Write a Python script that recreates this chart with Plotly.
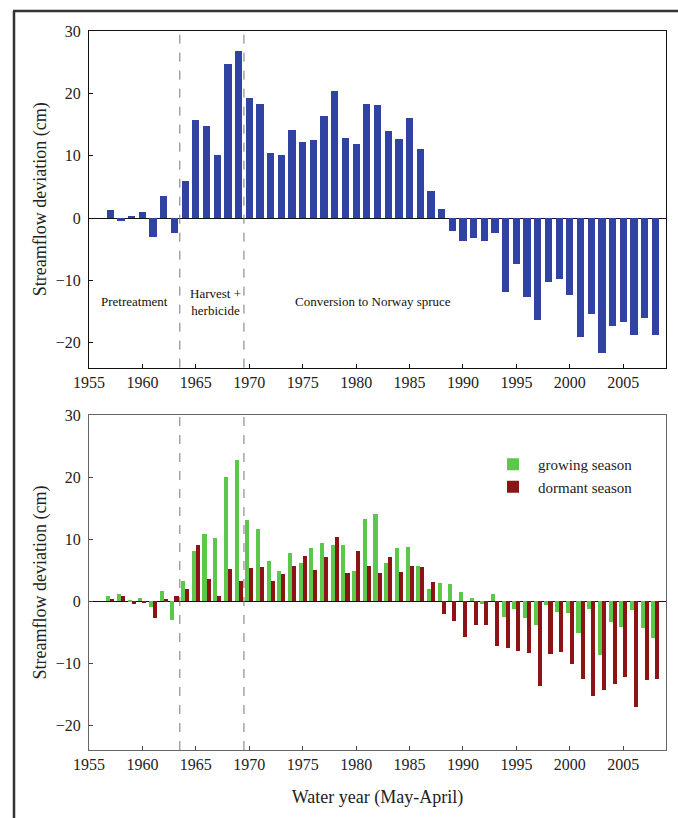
import plotly.graph_objects as go
from plotly.subplots import make_subplots

years = list(range(1957, 2009))

total_dev = [1.3, -0.5, 0.4, 0.9, -3.0, 3.5, -2.4, 5.9, 15.8, 14.8,
             10.1, 24.7, 26.8, 19.2, 18.3, 10.4, 10.1, 14.2, 12.2, 12.5,
             16.4, 20.4, 12.9, 11.8, 18.3, 18.2, 14.0, 12.6, 16.1, 11.0,
             4.4, 1.4, -2.1, -3.6, -3.2, -3.6, -2.4, -11.9, -7.4, -12.6,
             -16.4, -10.2, -9.8, -12.4, -19.0, -15.4, -21.6, -17.3, -16.6, -18.7,
             -16.0, -18.8]

growing_dev = [0.75, 1.1, 0.1, 0.5, -0.9, 1.6, -3.1, 3.2, 8.0, 10.8,
               10.2, 20.0, 22.8, 13.0, 11.6, 6.4, 4.9, 7.8, 6.1, 8.5,
               9.4, 9.1, 9.1, 4.9, 13.3, 14.1, 6.1, 8.5, 8.7, 5.7,
               2.0, 2.9, 2.7, 1.5, 0.5, -0.4, 1.1, -2.5, -1.2, -2.7,
               -3.9, -0.7, -1.8, -1.9, -5.1, -1.2, -8.7, -3.4, -4.2, -1.4,
               -4.3, -6.0]

dormant_dev = [0.4, 0.75, -0.5, -0.2, -2.7, 0.3, 0.75, 1.9, 9.0, 3.6,
               0.9, 5.2, 3.2, 5.4, 5.5, 3.2, 4.4, 5.7, 7.3, 5.0,
               7.1, 10.4, 4.5, 8.1, 5.7, 4.5, 7.1, 4.7, 5.7, 5.5,
               3.1, -2.0, -3.2, -5.8, -3.9, -3.9, -7.2, -7.6, -8.0, -8.4,
               -13.7, -8.6, -8.2, -10.1, -12.5, -15.3, -14.4, -13.4, -12.2, -17.0,
               -12.7, -12.5]

period_breaks = [1963.5, 1969.5]
period_labels = ["Pretreatment", "Harvest +<br>herbicide", "Conversion to Norway spruce"]
period_label_x = [1959.3, 1966.8, 1981.6]
period_label_y = -13.4

x_ticks = list(range(1955, 2010, 5))
y_ticks = [-20, -10, 0, 10, 20, 30]

FONT = "Liberation Serif"
BLUE = "#3043a3"
GREEN = "#5cc84a"
DRED = "#8c1414"

W, H = 678, 818
ml, mr, mt, mb = 89, 12, 31, 68
pw = W - ml - mr
ph = H - mt - mb

def px_x(p):
    return (p - ml) / pw

def px_y(p):
    return (H - mb - p) / ph

top_lo = px_y(367.7)
bot_hi = px_y(415)

fig = make_subplots(rows=2, cols=1, vertical_spacing=0.0)
fig.update_layout(
    yaxis=dict(domain=[top_lo, 1.0]),
    yaxis2=dict(domain=[0.0, bot_hi]),
)

fig.add_trace(go.Bar(x=years, y=total_dev, width=0.68, marker=dict(color=BLUE, line=dict(width=0)),
                     showlegend=False, name="total"), row=1, col=1)
fig.add_trace(go.Bar(x=years, y=growing_dev, width=0.38, offset=-0.38,
                     marker=dict(color=GREEN, line=dict(width=0)), name="growing season"), row=2, col=1)
fig.add_trace(go.Bar(x=years, y=dormant_dev, width=0.38, offset=0.0,
                     marker=dict(color=DRED, line=dict(width=0)), name="dormant season"), row=2, col=1)

axis_common = dict(
    range=[1955, 2009], tickvals=x_ticks, ticks="inside", ticklen=4, tickwidth=1,
    showgrid=False, showline=True, mirror=True, linewidth=1, zeroline=False,
    tickfont=dict(family=FONT, size=16, color="#222"),
)
fig.update_xaxes(**axis_common, linecolor="#111", tickcolor="#111", row=1, col=1)
fig.update_xaxes(**axis_common, linecolor="#666", tickcolor="#444", row=2, col=1,
                 title=dict(text="Water year (May-April)", font=dict(family=FONT, size=18, color="#222"),
                            standoff=18))

yaxis_common = dict(
    range=[-24, 30], tickvals=y_ticks, ticks="inside", ticklen=4, tickwidth=1,
    showgrid=False, showline=True, mirror=True, linewidth=1,
    zeroline=True, zerolinecolor="#111", zerolinewidth=1,
    tickfont=dict(family=FONT, size=16, color="#222"),
    ticklabelstandoff=4,
    title=dict(text="Streamflow deviation (cm)", font=dict(family=FONT, size=18, color="#222"), standoff=4),
)
fig.update_yaxes(**yaxis_common, linecolor="#111", tickcolor="#111", row=1, col=1)
fig.update_yaxes(**yaxis_common, linecolor="#666", tickcolor="#444", row=2, col=1)

shapes = []
for xr, yr in (("x", "y"), ("x2", "y2")):
    for b in period_breaks:
        shapes.append(dict(type="line", xref=xr, yref=yr + " domain", x0=b, x1=b, y0=0, y1=1,
                           line=dict(color="#777", width=1, dash="dash")))
# outer frame (left and top edges)
shapes.append(dict(type="line", xref="paper", yref="paper", x0=px_x(14), x1=px_x(14),
                   y0=px_y(11), y1=px_y(H + 5), line=dict(color="#333", width=2.5)))
shapes.append(dict(type="line", xref="paper", yref="paper", x0=px_x(13), x1=px_x(W + 5),
                   y0=px_y(11), y1=px_y(11), line=dict(color="#333", width=2.5)))

annotations = []
for lbl, lx in zip(period_labels, period_label_x):
    annotations.append(dict(x=lx, y=period_label_y, xref="x", yref="y", text=lbl, showarrow=False,
                            font=dict(family=FONT, size=13, color="#111"), align="center"))

fig.update_layout(
    width=W, height=H,
    margin=dict(l=ml, r=mr, t=mt, b=mb),
    paper_bgcolor="white", plot_bgcolor="white",
    bargap=0,
    shapes=shapes, annotations=annotations,
    legend=dict(x=px_x(488), y=px_y(448), xanchor="left", yanchor="top",
                font=dict(family=FONT, size=15, color="#222"),
                bgcolor="rgba(0,0,0,0)", tracegroupgap=0, itemwidth=40),
)

fig.write_html("out.html")
